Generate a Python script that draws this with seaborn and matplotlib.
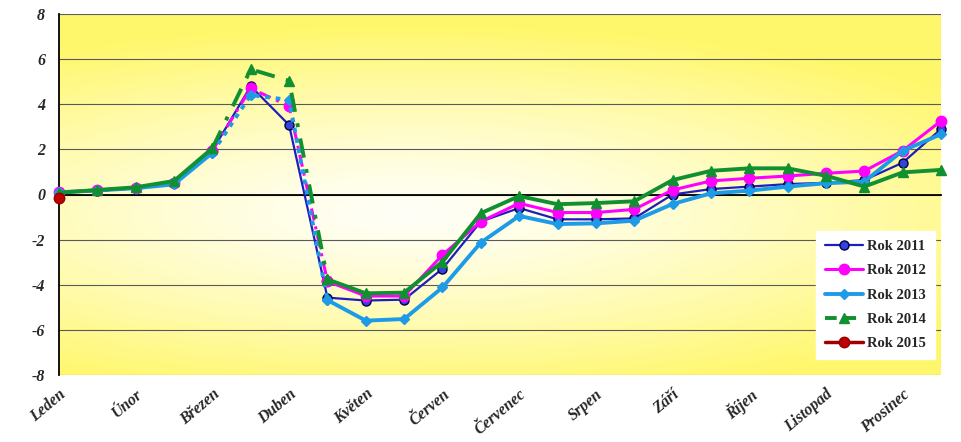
import numpy as np
import matplotlib
matplotlib.use("Agg")
import matplotlib.pyplot as plt
from matplotlib.lines import Line2D
import seaborn as sns

months = ["Leden", "Únor", "Březen", "Duben", "Květen", "Červen", "Červenec",
          "Srpen", "Září", "Říjen", "Listopad", "Prosinec"]
n_points = 24

y2011 = [0.08, 0.17, 0.27, 0.50, 1.95, 4.80, 3.08, -4.57, -4.70, -4.66, -3.29, -1.20,
         -0.60, -1.10, -1.10, -1.06, 0.00, 0.24, 0.35, 0.46, 0.52, 0.64, 1.41, 2.90]
y2012 = [0.10, 0.18, 0.30, 0.50, 1.95, 4.70, 3.92, -3.85, -4.50, -4.50, -2.68, -1.20,
         -0.39, -0.80, -0.80, -0.66, 0.20, 0.60, 0.72, 0.82, 0.94, 1.04, 1.94, 3.26]
y2013 = [0.10, 0.18, 0.28, 0.45, 1.85, 4.41, 4.19, -4.68, -5.59, -5.52, -4.12, -2.13,
         -0.95, -1.31, -1.28, -1.16, -0.42, 0.05, 0.17, 0.35, 0.50, 0.57, 1.94, 2.67]
y2014 = [0.08, 0.20, 0.32, 0.60, 2.05, 5.55, 5.04, -3.76, -4.38, -4.35, -2.98, -0.83,
         -0.07, -0.43, -0.38, -0.30, 0.64, 1.05, 1.16, 1.16, 0.83, 0.35, 0.98, 1.09]
y2015 = [-0.15] + [np.nan] * 23

labels = ["Rok 2011", "Rok 2012", "Rok 2013", "Rok 2014", "Rok 2015"]

sns.set_style("white")
plt.rcParams["font.family"] = ["Liberation Serif", "DejaVu Serif"]

fig = plt.figure(figsize=(9.61, 4.42), dpi=100)
ax = fig.add_axes([59 / 961, 1 - 375 / 442, 882 / 961, 361 / 442])

# background gradient
gx = np.linspace(0, 1, 300)
gy = np.linspace(0, 1, 200)
GX, GY = np.meshgrid(gx, gy)
t = np.sqrt(((GX - 0.40) / 0.80) ** 2 + ((GY - 0.45) / 0.52) ** 2)
t = np.clip(t, 0, 1) ** 1.3
white = np.array([1.0, 1.0, 0.97])
yellow = np.array([1.0, 0.97, 0.42])
img = white[None, None, :] * (1 - t[..., None]) + yellow[None, None, :] * t[..., None]
ax.imshow(img, extent=(0, n_points - 1, -8, 8), origin="lower", aspect="auto", zorder=0)

x = np.arange(n_points)

styles = [
    dict(data=y2011, color="#1E1EBE", lw=1.6, marker="o", ms=6.5, mfc="#3344DD", mec="#000044", dash=None),
    dict(data=y2012, color="#FF00FF", lw=2.2, marker="o", ms=7.5, mfc="#FF00FF", mec="#FF00FF", dash=(0, (4, 2, 1, 2))),
    dict(data=y2013, color="#1E9BE6", lw=2.8, marker="D", ms=5.5, mfc="#1E9BE6", mec="#1E9BE6", dash=(0, (1.2, 1.5))),
    dict(data=y2014, color="#109030", lw=2.8, marker="^", ms=6.5, mfc="#109030", mec="#109030", dash=(0, (5, 3, 1, 3))),
    dict(data=y2015, color="#A00000", lw=2.5, marker="o", ms=7.5, mfc="#C00000", mec="#900000", dash=None),
]

for z, s in enumerate(styles):
    vals = np.array(s["data"], dtype=float)
    if s["dash"] is None:
        segs = [(slice(0, n_points), "-")]
    else:
        segs = [(slice(0, 5), "-"), (slice(4, 8), s["dash"]), (slice(7, n_points), "-")]
    for sl, ls in segs:
        xs = x[sl]
        ys = vals[sl]
        m = ~np.isnan(ys)
        if m.sum() == 0:
            continue
        sns.lineplot(x=xs[m], y=ys[m], ax=ax, color=s["color"], lw=s["lw"],
                     linestyle=ls, marker=s["marker"], markersize=s["ms"],
                     markerfacecolor=s["mfc"], markeredgecolor=s["mec"],
                     markeredgewidth=1.0, estimator=None, sort=False,
                     zorder=3 + z, clip_on=False)

ax.set_xlim(0, n_points - 1)
ax.set_ylim(-8, 8)

# y axis
ax.set_yticks(np.arange(-8, 9, 2))
ax.set_yticklabels([str(v) for v in range(-8, 9, 2)], fontsize=11.5,
                   fontweight="bold", fontstyle="italic")
ax.tick_params(axis="y", direction="out", length=4, width=1, color="black", pad=6)
ax.yaxis.grid(True, color="#5a5a5a", lw=0.8)
ax.xaxis.grid(False)

# x axis line at zero with tick marks
ax.spines["bottom"].set_position(("data", 0))
ax.spines["bottom"].set_color("black")
ax.spines["bottom"].set_linewidth(1.3)
ax.spines["left"].set_color("black")
ax.spines["left"].set_linewidth(1.3)
ax.spines["top"].set_visible(False)
ax.spines["right"].set_visible(False)
ax.set_xticks(x)
ax.set_xticklabels([])
ax.tick_params(axis="x", direction="out", length=4, width=1, color="black")
ax.set_xlabel("")
ax.set_ylabel("")

# month labels on a secondary axis at the bottom
sec = ax.secondary_xaxis("bottom")
sec.set_xticks(x[::2])
sec.set_xticklabels(months, rotation=40, ha="right", rotation_mode="anchor",
                    fontsize=11.5, fontweight="bold", fontstyle="italic")
sec.tick_params(axis="x", length=0, pad=8)
sec.spines["bottom"].set_visible(False)

handles = []
for s, lab in zip(styles, labels):
    ls = "-" if s["color"] != "#109030" else (0, (3, 2))
    handles.append(Line2D([0], [0], color=s["color"], lw=s["lw"], linestyle=ls,
                          marker=s["marker"], markersize=s["ms"],
                          markerfacecolor=s["mfc"], markeredgecolor=s["mec"]))
leg = ax.legend(handles, labels, loc="lower right", bbox_to_anchor=(1.001, 0.025),
                frameon=True, fancybox=False, framealpha=1, edgecolor="white",
                prop=dict(family="Liberation Serif", weight="bold", size=10.5),
                handlelength=2.6, labelspacing=0.75, borderpad=0.6, handletextpad=0.3)
leg.set_zorder(20)

fig.savefig("out.png", dpi=100, facecolor="white")
